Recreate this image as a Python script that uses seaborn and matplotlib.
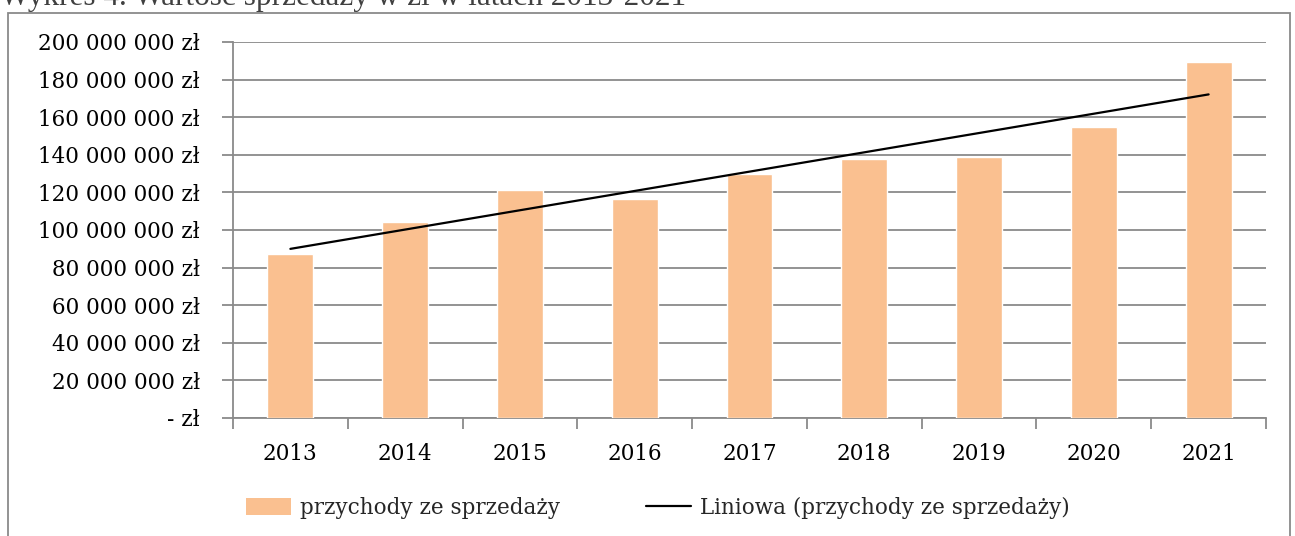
import numpy as np
import pandas as pd
import matplotlib
matplotlib.use("Agg")
import matplotlib.pyplot as plt
from matplotlib.patches import Rectangle, Patch
from matplotlib.lines import Line2D
from matplotlib.ticker import FuncFormatter, MultipleLocator, FixedLocator
import seaborn as sns

years = ["2013", "2014", "2015", "2016", "2017", "2018", "2019", "2020", "2021"]
revenue = [87.1e6, 104.3e6, 121.1e6, 116.7e6, 129.8e6, 137.6e6, 138.8e6, 154.8e6, 189.2e6]
series_label = "przychody ze sprzedaży"
trend_label = "Liniowa (przychody ze sprzedaży)"
title_text = "Wykres 4. Wartość sprzedaży w zł w latach 2013-2021"

sns.set_theme(style="white")
plt.rcParams["font.family"] = ["DejaVu Serif"]

BAR = "#FAC090"
GRID = "#8A8A8A"

fig = plt.figure(figsize=(12.95, 5.36), dpi=100)
ax = fig.add_axes([233/1295, 1-418/536, (1266-233)/1295, (418-42)/536])

df = pd.DataFrame({"year": years, "value": revenue})
sns.barplot(data=df, x="year", y="value", color=BAR, saturation=1, width=0.4, ax=ax, zorder=3)

# linear trend
xs = np.arange(len(years))
k, b = np.polyfit(xs, np.array(revenue), 1)
ax.plot([xs[0], xs[-1]], [k*xs[0]+b, k*xs[-1]+b], color="black", lw=1.6, zorder=4)

ax.set_xlim(-0.5, len(years)-0.5)
ax.set_ylim(0, 200e6)
ax.yaxis.set_major_locator(MultipleLocator(20e6))

def fmt(v, pos):
    if abs(v) < 1:
        return "- zł"
    return f"{int(round(v)):,}".replace(",", " ") + " zł"
ax.yaxis.set_major_formatter(FuncFormatter(fmt))

ax.grid(axis="y", color=GRID, lw=1.3, zorder=0)
ax.set_axisbelow(True)
for s in ["top", "right"]:
    ax.spines[s].set_visible(False)
for s in ["left", "bottom"]:
    ax.spines[s].set_color(GRID)
    ax.spines[s].set_linewidth(1.3)

ax.set_xlabel("")
ax.set_ylabel("")
ax.tick_params(axis="y", which="major", length=8, width=1.3, color=GRID, pad=16,
               labelsize=15.5, labelcolor="black", left=True)
ax.tick_params(axis="x", which="major", length=0, pad=18, labelsize=15.5, labelcolor="black")
ax.xaxis.set_minor_locator(FixedLocator(np.arange(-0.5, len(years), 1.0)))
ax.tick_params(axis="x", which="minor", length=8, width=1.3, color=GRID, bottom=True)

handles = [Patch(facecolor=BAR, edgecolor="none"), Line2D([0], [0], color="black", lw=1.6)]
fig.legend(handles, [series_label, trend_label], loc="center", bbox_to_anchor=(658/1295, 1-508/536),
           ncol=2, frameon=False, fontsize=15.5, handlelength=2.1, handleheight=0.8,
           handletextpad=0.4, columnspacing=4.0)

# chart frame
fig.patches.append(Rectangle((8/1295, -0.1), (1290-8)/1295, 1.1-13/536, transform=fig.transFigure,
                             fill=False, edgecolor=GRID, lw=1.3))

fig.text(0.0, 1-5/536, title_text, ha="left", va="baseline", fontsize=22.5, color="#404040",
         family=["Liberation Serif"])

fig.savefig("out.png", dpi=100)
